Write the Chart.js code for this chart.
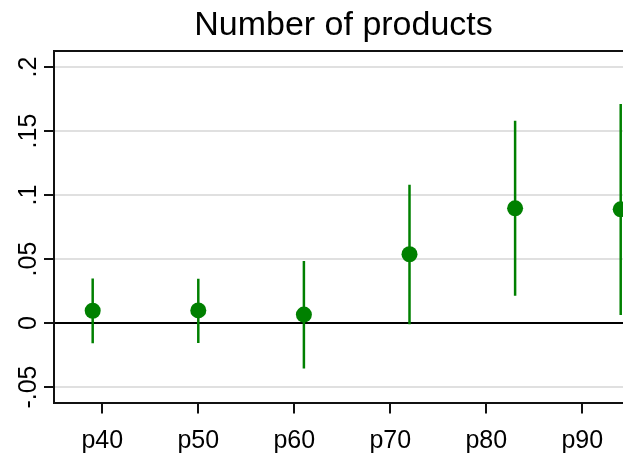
<!DOCTYPE html>
<html>
<head>
<meta charset="utf-8">
<script src="https://cdn.jsdelivr.net/npm/chart.js@4/dist/chart.umd.min.js"></script>
<style>
  html, body { margin: 0; padding: 0; background: #fff; overflow: hidden; }
  #wrap { width: 623px; height: 453px; overflow: hidden; position: relative; }
  #inner { width: 633px; height: 453px; position: absolute; left: 0; top: 0; }
</style>
</head>
<body>
<div id="wrap"><div id="inner"><canvas id="c" width="633" height="453" style="width:633px;height:453px"></canvas></div></div>
<script>
// ---- data ----
const categories   = ['p40', 'p50', 'p60', 'p70', 'p80', 'p90'];
const tickValues   = [40, 50, 60, 70, 80, 90];
const positions    = [39, 50, 61, 72, 83, 94];
const estimates    = [0.0096, 0.0098, 0.0066, 0.0537, 0.0896, 0.0888];
const ciLow        = [-0.0158, -0.0157, -0.0355, -0.0010, 0.0213, 0.0063];
const ciHigh       = [0.0347, 0.0345, 0.0485, 0.1080, 0.1580, 0.1710];
const yTicks       = [-0.05, 0, 0.05, 0.1, 0.15, 0.2];
const yTickLabels  = ['-.05', '0', '.05', '.1', '.15', '.2'];
const titleText    = 'Number of products';

// ---- build datasets ----
const green = 'rgb(0,128,0)';
const pointData = positions.map((x, i) => ({ x: x, y: estimates[i] }));
const ciData = [];
positions.forEach((x, i) => {
  ciData.push({ x: x, y: ciLow[i] });
  ciData.push({ x: x, y: ciHigh[i] });
  ciData.push({ x: x, y: null });
});
const FONT = '"Liberation Sans", Arial, Helvetica, sans-serif';

// outward tick marks on the x axis, placed by the x scale
const xTickMarks = {
  id: 'xTickMarks',
  afterDraw(chart) {
    const xs = chart.scales.x, c = chart.ctx;
    c.save();
    c.strokeStyle = '#111';
    c.lineWidth = 2;
    c.beginPath();
    xs.ticks.forEach((t) => {
      const px = Math.round(xs.getPixelForValue(t.value));
      c.moveTo(px, xs.top + 1);
      c.lineTo(px, xs.top + 11);
    });
    c.stroke();
    c.restore();
  }
};

new Chart(document.getElementById('c'), {
  type: 'scatter',
  plugins: [xTickMarks],
  data: {
    datasets: [
      { data: pointData, backgroundColor: green, borderColor: green, pointRadius: 8, pointBorderWidth: 0, order: 0 },
      { data: ciData, showLine: true, spanGaps: false, borderColor: green, borderWidth: 2.5, borderCapStyle: 'butt', pointRadius: 0, order: 1 }
    ]
  },
  options: {
    responsive: false,
    devicePixelRatio: 1,
    animation: false,
    events: [],
    layout: { padding: 0, autoPadding: false },
    plugins: {
      legend: { display: false },
      tooltip: { enabled: false },
      title: {
        display: true, text: titleText, fullSize: false, color: '#000',
        font: { family: FONT, size: 34, weight: 'normal', lineHeight: 1.2 },
        padding: { top: 5, bottom: 5.2 }
      }
    },
    scales: {
      x: {
        type: 'linear', position: 'bottom', min: 34.97, max: 95.28,
        afterBuildTicks: (s) => { s.ticks = tickValues.map(v => ({ value: v })); },
        afterFit: (s) => { s.height = 50.5; },
        grid: { display: false },
        border: { display: true, color: '#111', width: 2 },
        ticks: {
          autoSkip: false, maxRotation: 0, minRotation: 0, padding: 16, color: '#000',
          font: { family: FONT, size: 25 },
          callback: (v) => { const i = tickValues.indexOf(v); return i >= 0 ? categories[i] : ''; }
        }
      },
      x2: {
        type: 'linear', position: 'top', min: 34.97, max: 95.28,
        afterFit: (s) => { s.height = 0; },
        grid: { display: false },
        border: { display: true, color: '#111', width: 2 },
        ticks: { display: false }
      },
      y: {
        type: 'linear', position: 'left', min: -0.0621, max: 0.2125,
        afterBuildTicks: (s) => { s.ticks = yTicks.map(v => ({ value: v })); },
        afterFit: (s) => { s.width = 54; },
        grid: {
          drawTicks: true, tickLength: 10, lineWidth: 2,
          color: (ctx) => (ctx.tick && ctx.tick.value === 0) ? '#000' : '#e0e0e0',
          tickColor: '#111'
        },
        border: { display: true, color: '#111', width: 2 },
        ticks: {
          autoSkip: false, minRotation: 90, maxRotation: 90, crossAlign: 'center', padding: -7, color: '#000',
          font: { family: FONT, size: 25 },
          callback: (v) => { const i = yTicks.findIndex(t => Math.abs(t - v) < 1e-9); return i >= 0 ? yTickLabels[i] : ''; }
        }
      }
    }
  }
});
</script>
</body>
</html>
